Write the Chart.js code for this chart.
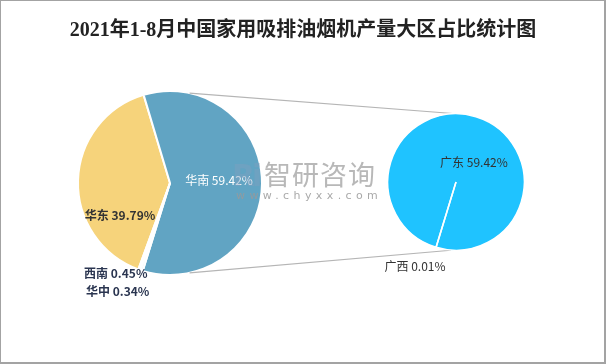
<!DOCTYPE html>
<html>
<head>
  <meta charset="UTF-8">
  <title>2021年1-8月中国家用吸排油烟机产量大区占比统计图</title>
  <script src="https://cdn.jsdelivr.net/npm/chart.js"></script>
  <style>
    body {
      margin: 0;
      background: #fff;
      font-family: "Noto Sans CJK SC", sans-serif;
    }
    #wrap {
      position: relative;
      width: 606px;
      height: 364px;
      overflow: hidden;
    }
    #wrap canvas {
      position: absolute;
      left: 0;
      top: 0;
    }
    #title {
      position: absolute;
      left: 0;
      top: 14px;
      width: 606px;
      text-align: center;
      font-family: "Liberation Serif", "Noto Sans CJK SC", serif;
      font-weight: bold;
      font-size: 20px;
      line-height: 30px;
      color: #222;
    }
    .wm {
      position: absolute;
      color: #9a9a9a;
      opacity: 0.85;
      white-space: nowrap;
    }
    #frame {
      position: absolute;
      left: 0;
      top: 0;
      width: 606px;
      height: 364px;
      box-sizing: border-box;
      border: 1px solid #a3a3a3;
      border-right-width: 2px;
      border-bottom-width: 2px;
      pointer-events: none;
    }
  </style>
</head>
<body>
<div id="wrap">
  <canvas id="left" width="606" height="364"></canvas>
  <canvas id="right" width="606" height="364"></canvas>
  <div id="title">2021年1-8月中国家用吸排油烟机产量大区占比统计图</div>
  <div class="wm" style="left:232px;top:158px;font:bold 30px 'DejaVu Sans';color:#7f9fbf;opacity:0.45;letter-spacing:-3px;">Ri</div>
  <div class="wm" style="left:264px;top:156px;font-size:27px;line-height:36px;letter-spacing:1px;opacity:0.7;">智研咨询</div>
  <div class="wm" style="left:236px;top:189px;font-size:11px;line-height:14px;letter-spacing:4.4px;font-family:'DejaVu Sans';">www.chyxx.com</div>
  <div id="frame"></div>
</div>

<script>
  // left pie: regions
  const regions = ['华东', '华南', '西南', '华中'];
  const regionShare = [39.79, 59.42, 0.45, 0.34];
  const regionColors = ['#f6d37b', '#61a4c3', '#f3f3f3', '#eeeeee'];

  // right pie: breakdown of 华南
  const provinces = ['广东', '广西'];
  const provinceShare = [59.42, 0.01];
  const provinceColors = ['#1fc3ff', '#1fc3ff'];

  // label placement relative to the arc's centroid (px)
  const leftLabelShift = [[-4, 34], [3, -3], [-40, 47], [-37, 65]];
  const rightLabelShift = [[8, 13], [-31, 52]];

  function labelPlugin(id, shifts, styles) {
    return {
      id: id,
      afterDatasetsDraw(chart) {
        const ctx = chart.ctx;
        const meta = chart.getDatasetMeta(0);
        const ds = chart.data.datasets[0];
        ctx.save();
        ctx.textAlign = 'center';
        ctx.textBaseline = 'middle';
        meta.data.forEach((arc, i) => {
          const p = arc.tooltipPosition();
          const st = styles[i];
          ctx.font = st.font;
          ctx.fillStyle = st.color;
          const txt = chart.data.labels[i] + ' ' + ds.data[i].toFixed(2) + '%';
          ctx.fillText(txt, p.x + shifts[i][0], p.y + shifts[i][1]);
        });
        ctx.restore();
      }
    };
  }

  const boldFont = 'bold 12px "Noto Sans CJK SC"';
  const normFont = '12px "Noto Sans CJK SC"';

  const leftChart = new Chart(document.getElementById('left'), {
    type: 'pie',
    data: {
      labels: regions,
      datasets: [{
        data: regionShare,
        backgroundColor: regionColors,
        borderColor: '#ffffff',
        borderWidth: 2
      }]
    },
    options: {
      responsive: false,
      animation: false,
      rotation: 200.1,
      layout: { padding: { left: 77, right: 343, top: 90, bottom: 88 } },
      plugins: { legend: { display: false }, tooltip: { enabled: false } }
    },
    plugins: [labelPlugin('leftLabels', leftLabelShift, [
      { font: boldFont, color: '#333333' },
      { font: normFont, color: '#ffffff' },
      { font: boldFont, color: '#2a3550' },
      { font: boldFont, color: '#2a3550' }
    ])]
  });

  // grey connectors between the two pies
  const connectorPlugin = {
    id: 'connectors',
    beforeDatasetsDraw(chart) {
      const a = leftChart.getDatasetMeta(0).data[0];
      const b = chart.getDatasetMeta(0).data[0];
      const ang = 12.3 * Math.PI / 180;
      const ctx = chart.ctx;
      ctx.save();
      ctx.strokeStyle = '#b5b5b5';
      ctx.lineWidth = 1.2;
      ctx.beginPath();
      ctx.moveTo(a.x + a.outerRadius * Math.sin(ang), a.y - a.outerRadius * Math.cos(ang));
      ctx.lineTo(b.x, b.y - b.outerRadius);
      ctx.moveTo(a.x + a.outerRadius * Math.sin(ang), a.y + a.outerRadius * Math.cos(ang));
      ctx.lineTo(b.x - 5, b.y + b.outerRadius);
      ctx.stroke();
      ctx.restore();
    }
  };

  new Chart(document.getElementById('right'), {
    type: 'pie',
    data: {
      labels: provinces,
      datasets: [{
        data: provinceShare,
        backgroundColor: provinceColors,
        borderColor: '#ffffff',
        borderWidth: 1.5
      }]
    },
    options: {
      responsive: false,
      animation: false,
      rotation: 197,
      layout: { padding: { left: 387, right: 81, top: 113, bottom: 113 } },
      plugins: { legend: { display: false }, tooltip: { enabled: false } }
    },
    plugins: [connectorPlugin, labelPlugin('rightLabels', rightLabelShift, [
      { font: normFont, color: '#333333' },
      { font: normFont, color: '#333333' }
    ])]
  });
</script>
</body>
</html>
